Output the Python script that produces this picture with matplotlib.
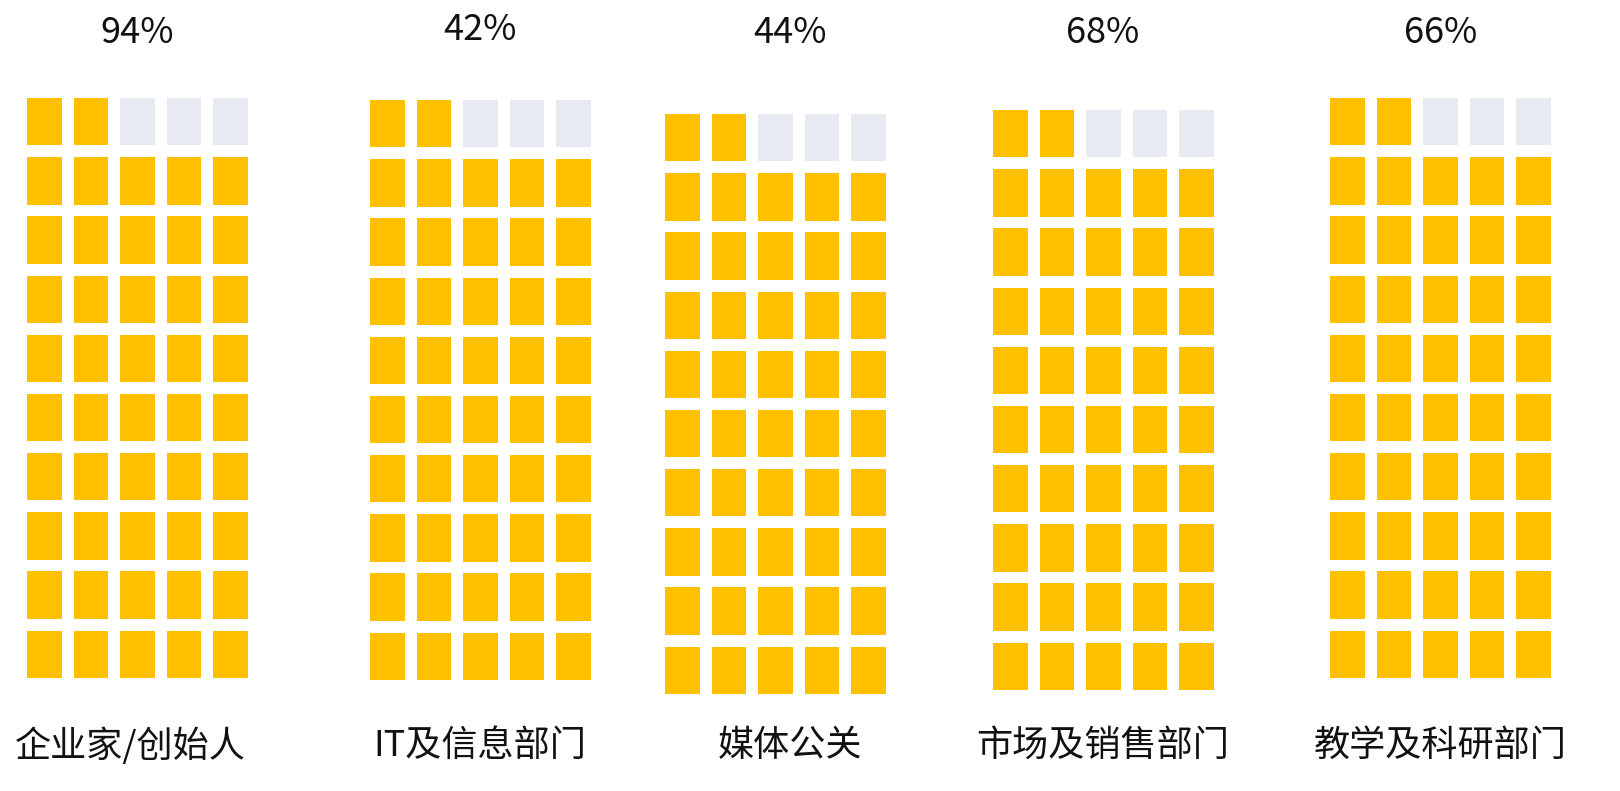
import matplotlib
matplotlib.use("Agg")
import matplotlib.pyplot as plt
from matplotlib.patches import Rectangle

plt.rcParams['font.family'] = ['Noto Sans CJK SC', 'DejaVu Sans']

categories = ["企业家/创始人", "IT及信息部门", "媒体公关", "市场及销售部门", "教学及科研部门"]
percent_labels = ["94%", "42%", "44%", "68%", "66%"]
filled_cells = [47, 47, 47, 47, 47]
n_rows = 10
n_cols = 5

W, H = 1620, 791
fig = plt.figure(figsize=(W / 100, H / 100), dpi=100)

# panel placement in pixels: (left, top)
panel_px = [(27, 98), (370, 100), (665, 114), (993, 110), (1330, 98)]
panel_w, panel_h = 221, 580
title_pos = [(137, 33), (480, 30), (790, 33), (1103, 33), (1441, 33)]
label_pos = [(130, 746), (480, 746), (790, 746), (1103, 746), (1440, 746)]

cw, ch = 0.75, 0.8
yellow = "#FFC000"
grey = "#E8EAF2"

for i, cat in enumerate(categories):
    lx, ty = panel_px[i]
    ax = fig.add_axes([lx / W, 1 - (ty + panel_h) / H, panel_w / W, panel_h / H])
    ax.set_xlim(0, (n_cols - 1) + cw)
    ax.set_ylim(0, (n_rows - 1) + ch)
    ax.axis('off')
    total = n_rows * n_cols
    for k in range(total):
        row = k // n_cols  # from bottom
        col = k % n_cols
        color = yellow if k < filled_cells[i] else grey
        ax.add_patch(Rectangle((col, row), cw, ch, facecolor=color, edgecolor='none'))
    tx, tyy = title_pos[i]
    fig.text(tx / W, 1 - tyy / H, percent_labels[i], ha='center', va='center',
             fontsize=26, color='#111111', fontweight='light')
    bx, by = label_pos[i]
    fig.text(bx / W, 1 - by / H, cat, ha='center', va='center',
             fontsize=26, color='#111111', fontweight='light')

fig.savefig("out.png", dpi=100, facecolor='white')
